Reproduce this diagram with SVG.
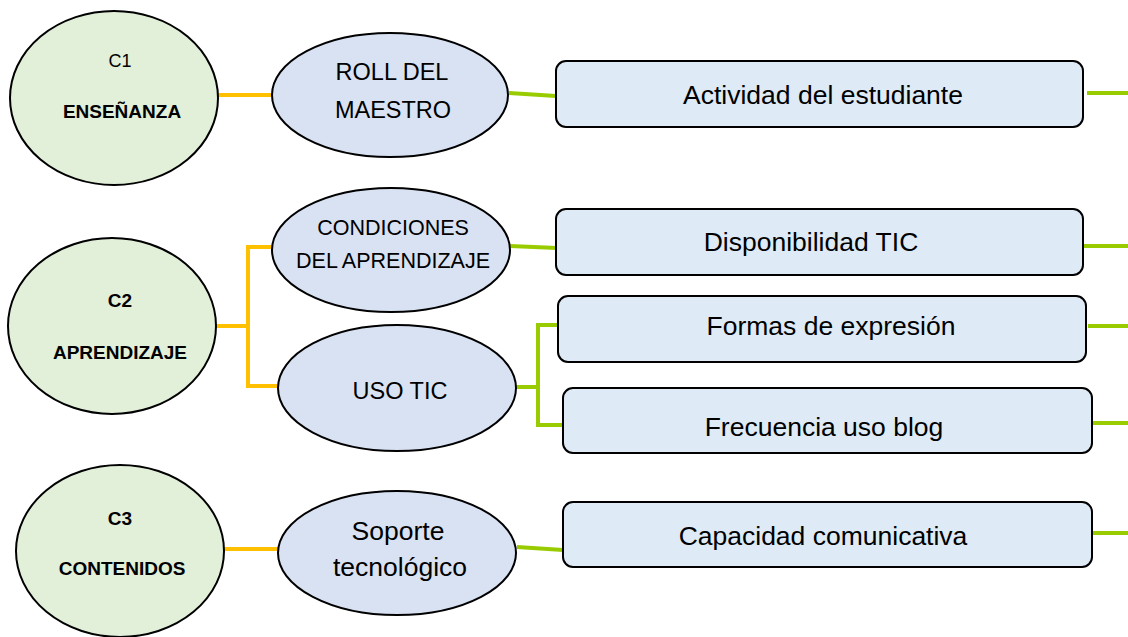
<svg xmlns="http://www.w3.org/2000/svg" width="1128" height="637" viewBox="0 0 1128 637">
<style>
  .circle { fill: #e2efd9; stroke: #000; stroke-width: 2; }
  .ell { fill: #d9e2f3; stroke: #000; stroke-width: 2; }
  .box { fill: #deeaf6; stroke: #000; stroke-width: 2; }
  text { font-family: "Liberation Sans", Arial, sans-serif; fill: #000; text-anchor: middle; }
  .cb { font-weight: bold; font-size: 19px; }
  .cn { font-size: 18px; }
  .et { font-size: 23.5px; }
  .es { font-size: 21.5px; }
  .bt { font-size: 26.5px; }
  .org { stroke: #ffc000; stroke-width: 4; fill: none; }
  .grn { stroke: #99cc00; stroke-width: 4; fill: none; }
</style>
<rect width="1128" height="637" fill="#fff"/>
<g id="connectors">
  <path class="org" d="M218 95 H273"/>
  <path class="org" d="M215 326 H248 M248 247 V386 M246 247 H273 M246 386 H279"/>
  <path class="org" d="M224 549 H279"/>
  <path class="grn" d="M509 93 L556 96"/>
  <path class="grn" d="M1087 93 H1128"/>
  <path class="grn" d="M510 246 L557 248"/>
  <path class="grn" d="M1084 246 H1128"/>
  <path class="grn" d="M516 387 H538 M538 323 V427 M536 325 H558 M536 425 H563"/>
  <path class="grn" d="M1088 326 H1128"/>
  <path class="grn" d="M1092 423 H1128"/>
  <path class="grn" d="M517 547 L563 550"/>
  <path class="grn" d="M1092 533 H1128"/>
</g>
<g id="c1">
  <ellipse class="circle" cx="114" cy="98" rx="104" ry="87"/>
  <text class="cn" x="120" y="67">C1</text>
  <text class="cb" x="122" y="118">ENSEÑANZA</text>
</g>
<g id="c2">
  <ellipse class="circle" cx="112" cy="326" rx="104" ry="88"/>
  <text class="cb" x="120" y="307">C2</text>
  <text class="cb" x="120" y="359">APRENDIZAJE</text>
</g>
<g id="c3">
  <ellipse class="circle" cx="120" cy="551" rx="104" ry="86"/>
  <text class="cb" x="120" y="525">C3</text>
  <text class="cb" x="122" y="575">CONTENIDOS</text>
</g>
<g id="roll">
  <ellipse class="ell" cx="390" cy="95" rx="118" ry="62"/>
  <text class="et" x="392" y="80">ROLL DEL</text>
  <text class="et" x="393" y="118">MAESTRO</text>
</g>
<g id="condiciones">
  <ellipse class="ell" cx="391" cy="250" rx="119" ry="62"/>
  <text class="es" x="393" y="235">CONDICIONES</text>
  <text class="es" x="393" y="268">DEL APRENDIZAJE</text>
</g>
<g id="usotic">
  <ellipse class="ell" cx="397" cy="388" rx="119" ry="63"/>
  <text class="et" x="400" y="399">USO TIC</text>
</g>
<g id="soporte">
  <ellipse class="ell" cx="397" cy="553" rx="119" ry="62"/>
  <text class="bt" x="398" y="540">Soporte</text>
  <text class="bt" x="400" y="576">tecnológico</text>
</g>
<g id="actividad">
  <rect class="box" x="556" y="61" width="527" height="66" rx="10"/>
  <text class="bt" x="823" y="104">Actividad del estudiante</text>
</g>
<g id="disponibilidad">
  <rect class="box" x="556" y="209" width="527" height="66" rx="10"/>
  <text class="bt" x="811" y="251">Disponibilidad TIC</text>
</g>
<g id="formas">
  <rect class="box" x="558" y="296" width="528" height="66" rx="10"/>
  <text class="bt" x="831" y="335">Formas de expresión</text>
</g>
<g id="frecuencia">
  <rect class="box" x="563" y="388" width="529" height="65" rx="10"/>
  <text class="bt" x="824" y="436">Frecuencia uso blog</text>
</g>
<g id="capacidad">
  <rect class="box" x="563" y="502" width="529" height="65" rx="10"/>
  <text class="bt" x="823" y="545">Capacidad comunicativa</text>
</g>
</svg>
